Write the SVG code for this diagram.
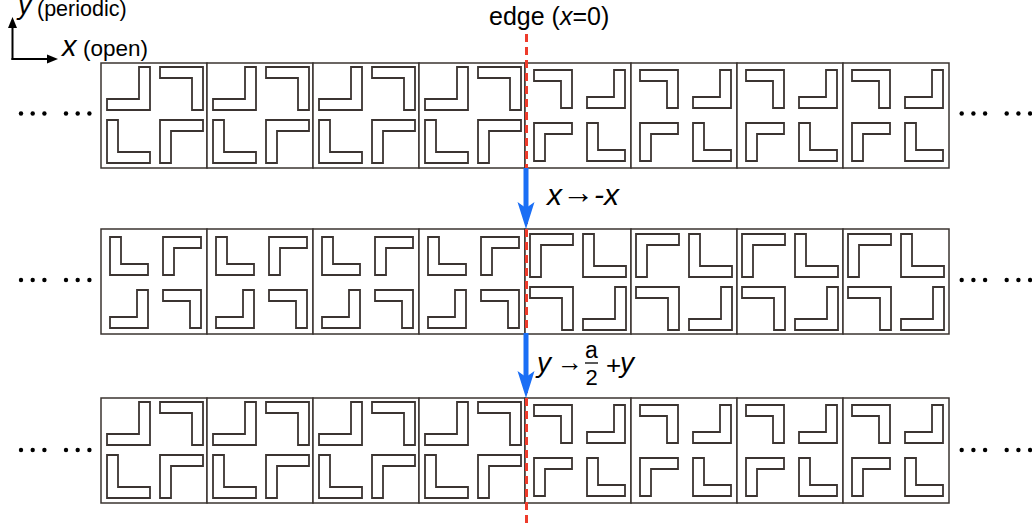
<svg xmlns="http://www.w3.org/2000/svg" xmlns:xlink="http://www.w3.org/1999/xlink" width="1032" height="526" viewBox="0 0 1032 526">
<style>
.sh{fill:#fff;stroke:#3b3431;stroke-width:1.8;stroke-linejoin:miter}
.cell{fill:#fff;stroke:#3b3431;stroke-width:1.5}
.t{font-family:"Liberation Sans",Arial,sans-serif;fill:#000}
.it{font-style:italic}
.dot{fill:#000}
.blue{fill:#1a6ef5}
</style>
<defs>
<path id="Lbr" class="sh" d="M32,0H43V43H0V32H32Z"/>
<path id="Ltr" class="sh" d="M0,0H43V43H32V11H0Z"/>
<path id="Lbl" class="sh" d="M0,0H11V32H43V43H0Z"/>
<path id="Ltl" class="sh" d="M0,0H43V11H11V43H0Z"/>
<path id="Sbr" class="sh" d="M27,0H38V38H0V27H27Z"/>
<path id="Str" class="sh" d="M0,0H38V38H27V11H0Z"/>
<path id="Sbl" class="sh" d="M0,0H11V27H38V38H0Z"/>
<path id="Stl" class="sh" d="M0,0H38V11H11V38H0Z"/>
<g id="cellA"><rect class="cell" x="0" y="0" width="106" height="105"/><use href="#Lbr" x="6" y="4"/><use href="#Ltr" x="59" y="4"/><use href="#Lbl" x="6" y="57"/><use href="#Ltl" x="59" y="57"/></g>
<g id="cellB"><rect class="cell" x="0" y="0" width="106" height="105"/><use href="#Str" x="9" y="7"/><use href="#Sbr" x="62" y="7"/><use href="#Stl" x="9" y="60"/><use href="#Sbl" x="62" y="60"/></g>
<g id="cellC"><rect class="cell" x="0" y="0" width="106" height="105"/><use href="#Sbl" x="9" y="8"/><use href="#Stl" x="62" y="8"/><use href="#Sbr" x="9" y="61"/><use href="#Str" x="62" y="61"/></g>
<g id="cellD"><rect class="cell" x="0" y="0" width="106" height="105"/><use href="#Ltl" x="5" y="5"/><use href="#Lbl" x="58" y="5"/><use href="#Ltr" x="5" y="58"/><use href="#Lbr" x="58" y="58"/></g>
<g id="dots"><circle class="dot" cx="0" cy="0" r="2.2"/><circle class="dot" cx="11.7" cy="0" r="2.2"/><circle class="dot" cx="23.4" cy="0" r="2.2"/><circle class="dot" cx="45" cy="0" r="2.2"/><circle class="dot" cx="56.7" cy="0" r="2.2"/><circle class="dot" cx="68.4" cy="0" r="2.2"/></g>
</defs>

<g id="axes">
<line x1="12.5" y1="60" x2="12.5" y2="27" stroke="#000" stroke-width="2"/>
<path d="M12.5,17 L8,28 L17,28 Z" fill="#000"/>
<line x1="11.5" y1="59" x2="48" y2="59" stroke="#000" stroke-width="2"/>
<path d="M58,59 L47,54.5 L47,63.5 Z" fill="#000"/>
<text class="t it" x="18" y="14" font-size="27">y</text>
<text class="t" x="37" y="16" font-size="21.5">(periodic)</text>
<text class="t it" x="62" y="56" font-size="29">x</text>
<text class="t" x="83" y="56" font-size="22.5">(open)</text>
</g>

<g id="row1">
<use href="#cellA" x="101" y="63"/><use href="#cellA" x="207" y="63"/><use href="#cellA" x="313" y="63"/><use href="#cellA" x="419" y="63"/>
<use href="#cellB" x="525" y="63"/><use href="#cellB" x="631" y="63"/><use href="#cellB" x="737" y="63"/><use href="#cellB" x="843" y="63"/>
<use href="#dots" x="21" y="113.5"/><use href="#dots" x="961.7" y="113.5"/>
</g>
<g id="row2">
<use href="#cellC" x="101" y="229"/><use href="#cellC" x="207" y="229"/><use href="#cellC" x="313" y="229"/><use href="#cellC" x="419" y="229"/>
<use href="#cellD" x="525" y="229"/><use href="#cellD" x="631" y="229"/><use href="#cellD" x="737" y="229"/><use href="#cellD" x="843" y="229"/>
<use href="#dots" x="21" y="280"/><use href="#dots" x="961.7" y="280"/>
</g>
<g id="row3">
<use href="#cellA" x="101" y="398"/><use href="#cellA" x="207" y="398"/><use href="#cellA" x="313" y="398"/><use href="#cellA" x="419" y="398"/>
<use href="#cellB" x="525" y="398"/><use href="#cellB" x="631" y="398"/><use href="#cellB" x="737" y="398"/><use href="#cellB" x="843" y="398"/>
<use href="#dots" x="21" y="450"/><use href="#dots" x="961.7" y="450"/>
</g>

<g id="edge">
<line x1="526.5" y1="34" x2="526.5" y2="526" stroke="#ee3b2b" stroke-width="3" stroke-dasharray="8 5"/>
<text class="t" x="489" y="25" font-size="25">edge (<tspan class="it">x</tspan>=0)</text>
</g>

<g id="connectors">
<rect class="blue" x="523.5" y="168" width="5" height="42"/>
<path class="blue" d="M526,229 L517.5,202 L526,208 L534.5,202 Z"/>
<rect class="blue" x="523.5" y="333" width="5" height="44"/>
<path class="blue" d="M526,398 L517.5,371 L526,377 L534.5,371 Z"/>
</g>

<g id="labels">
<text class="t it" x="547" y="205" font-size="30">x</text>
<text class="t" x="562" y="203" font-size="32">→</text>
<text class="t it" x="594" y="205" font-size="30">-</text>
<text class="t it" x="604" y="205" font-size="30">x</text>
<text class="t it" x="537" y="372" font-size="28">y</text>
<text class="t" x="557" y="371" font-size="26">→</text>
<text class="t" x="591.5" y="358" font-size="23" text-anchor="middle">a</text>
<line x1="585" y1="363" x2="598" y2="363" stroke="#000" stroke-width="1.3"/>
<text class="t" x="591.5" y="385" font-size="22" text-anchor="middle">2</text>
<text class="t" x="606" y="374" font-size="26">+</text>
<text class="t it" x="620" y="372" font-size="28">y</text>
</g>
</svg>
